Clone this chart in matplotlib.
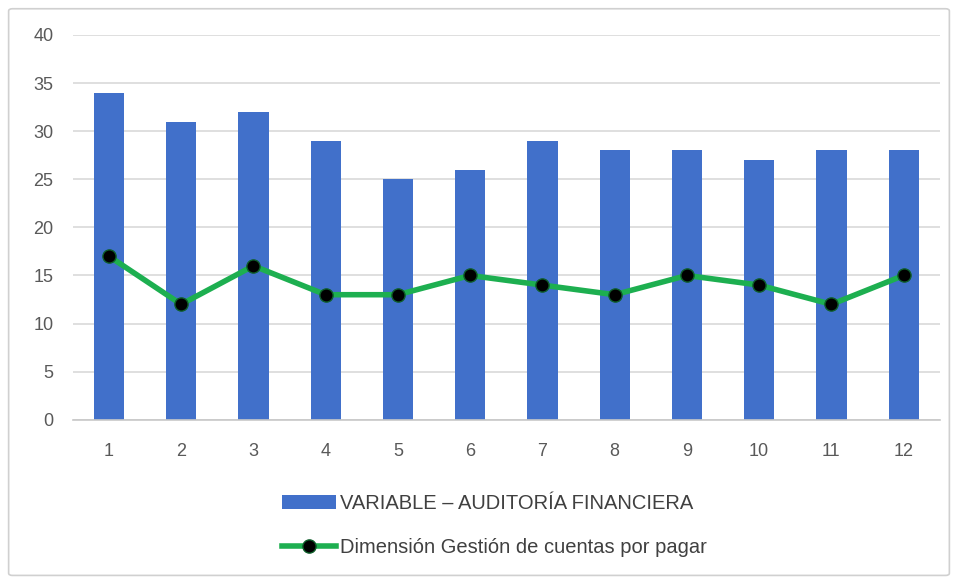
import matplotlib
matplotlib.use("Agg")
import matplotlib.pyplot as plt
from matplotlib.patches import FancyBboxPatch
from matplotlib.lines import Line2D
from matplotlib.patches import Patch

categories = ["1", "2", "3", "4", "5", "6", "7", "8", "9", "10", "11", "12"]
auditoria = [34, 31, 32, 29, 25, 26, 29, 28, 28, 27, 28, 28]
cuentas_pagar = [17, 12, 16, 13, 13, 15, 14, 13, 15, 14, 12, 15]
y_ticks = [0, 5, 10, 15, 20, 25, 30, 35, 40]

bar_label = "VARIABLE – AUDITORÍA FINANCIERA"
line_label = "Dimensión Gestión de cuentas por pagar"

plt.rcParams["font.family"] = ["Liberation Sans", "DejaVu Sans"]

fig = plt.figure(figsize=(9.58, 5.83), dpi=100)
fig.patch.set_facecolor("white")

# outer chart frame, kept behind the axes
frame = FancyBboxPatch((0.009, 0.013), 0.982, 0.972,
                       boxstyle="round,pad=0,rounding_size=0.004",
                       transform=fig.transFigure, facecolor="white",
                       edgecolor="#D0D0D0", linewidth=1.2, zorder=-5)
fig.patches.append(frame)

ax = fig.add_axes([0.076, 0.28, 0.905, 0.66])
ax.set_facecolor("none")
ax.set_zorder(2)

x = list(range(len(categories)))
ax.bar(x, auditoria, width=0.42, color="#4170CA", zorder=2)
ax.plot(x, cuentas_pagar, color="#1DAF50", linewidth=4, zorder=3,
        marker="o", markersize=9.5, markerfacecolor="black",
        markeredgecolor="#0E5E2A", markeredgewidth=1)

ax.set_xlim(-0.5, len(categories) - 0.5)
ax.set_ylim(0, 40)
ax.set_yticks(y_ticks)
ax.set_xticks(x)
ax.set_xticklabels(categories)
ax.yaxis.grid(True, color="#D9D9D9", linewidth=1.2, zorder=0)
ax.set_axisbelow(True)
for s in ["top", "right", "left"]:
    ax.spines[s].set_visible(False)
ax.spines["bottom"].set_color("#C8C8C8")
ax.spines["bottom"].set_linewidth(1.2)
ax.tick_params(axis="both", length=0, labelsize=13, labelcolor="#595959")
ax.tick_params(axis="x", pad=17)
ax.tick_params(axis="y", pad=14)

handles = [
    Patch(facecolor="#4170CA", edgecolor="none", label=bar_label),
    Line2D([0], [0], color="#1DAF50", linewidth=4, marker="o", markersize=9.5,
           markerfacecolor="black", markeredgecolor="#0E5E2A", label=line_label),
]
fig.legend(handles=handles, loc="center", bbox_to_anchor=(0.516, 0.098),
           ncol=1, frameon=False, fontsize=14.5, labelcolor="#404040",
           handlelength=2.7, handletextpad=0.2, labelspacing=1.25)

fig.savefig("out.png", dpi=100)
